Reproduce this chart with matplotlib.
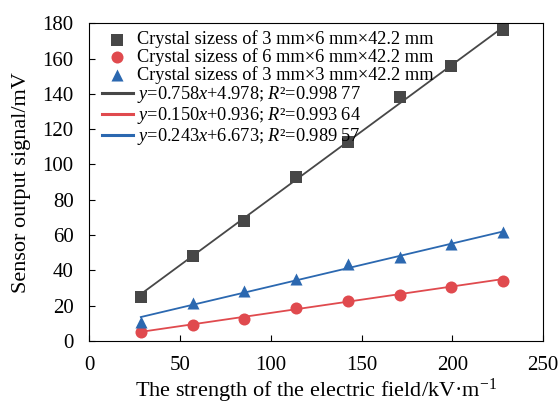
import matplotlib
matplotlib.use("Agg")
import matplotlib.pyplot as plt
import numpy as np

plt.rcParams["font.family"] = ["Liberation Serif", "DejaVu Serif"]
plt.rcParams["mathtext.fontset"] = "custom"
plt.rcParams["mathtext.it"] = "Liberation Serif:italic"
plt.rcParams["mathtext.rm"] = "Liberation Serif"

# field strength, kV/m
field = [28.5, 57, 85.5, 114, 142.5, 171, 199.5, 228]

# sensor output, mV
out_3x6 = [25, 48, 68, 93, 113, 138, 156, 176]
out_6x6 = [5, 9, 12.5, 18.5, 22.5, 26, 30.5, 34]
out_3x3 = [11, 21.5, 28.5, 35, 43.5, 47.5, 55, 62]

# fit coefficients (slope, intercept)
fit_3x6 = (0.758, 4.978)
fit_6x6 = (0.150, 0.936)
fit_3x3 = (0.243, 6.673)

labels = [
    "Crystal sizess of 3 mm×6 mm×42.2 mm",
    "Crystal sizess of 6 mm×6 mm×42.2 mm",
    "Crystal sizess of 3 mm×3 mm×42.2 mm",
]
fit_labels = [
    r"$y$=0.758$x$+4.978; $R$²=0.998 77",
    r"$y$=0.150$x$+0.936; $R$²=0.993 64",
    r"$y$=0.243$x$+6.673; $R$²=0.989 57",
]

colors = ["#474747", "#e04a4e", "#2b68b0"]
markers = ["s", "o", "^"]

fig = plt.figure(figsize=(5.6, 4.07), dpi=100)
ax = fig.add_axes([0.159, 0.162, 0.811, 0.781])

x = np.array(field)
handles_m = []
handles_l = []
for ys, c, m, lab in zip([out_3x6, out_6x6, out_3x3], colors, markers, labels):
    h = ax.scatter(x, ys, marker=m, color=c, s=75, zorder=3, label=lab, linewidths=0)
    handles_m.append(h)
for (k, b), c, flab in zip([fit_3x6, fit_6x6, fit_3x3], colors, fit_labels):
    (l,) = ax.plot(x, k * x + b, color=c, lw=1.3, zorder=2, label=flab)
    handles_l.append(l)

ax.set_xlim(0, 250)
ax.set_ylim(0, 180)
ax.set_xticks(np.arange(0, 251, 50))
ax.set_yticks(np.arange(0, 181, 20))
ax.tick_params(direction="in", labelsize=15, length=4)
ax.tick_params(axis="y", pad=11)
ax.tick_params(axis="x", pad=11)
ax.set_xlabel(r"The strength of the electric field/kV·m$^{-1}$", fontsize=16, labelpad=1)
ax.set_ylabel("Sensor output signal/mV", fontsize=16, labelpad=8)

leg = ax.legend(
    handles_m + handles_l,
    labels + fit_labels,
    loc="upper left",
    frameon=False,
    fontsize=13.2,
    handlelength=1.7,
    handletextpad=0.2,
    labelspacing=0.0,
    borderaxespad=0.0,
    bbox_to_anchor=(0.012, 1.0),
)
for lh in leg.get_lines():
    lh.set_linewidth(2.2)

fig.savefig("out.png", dpi=100)
